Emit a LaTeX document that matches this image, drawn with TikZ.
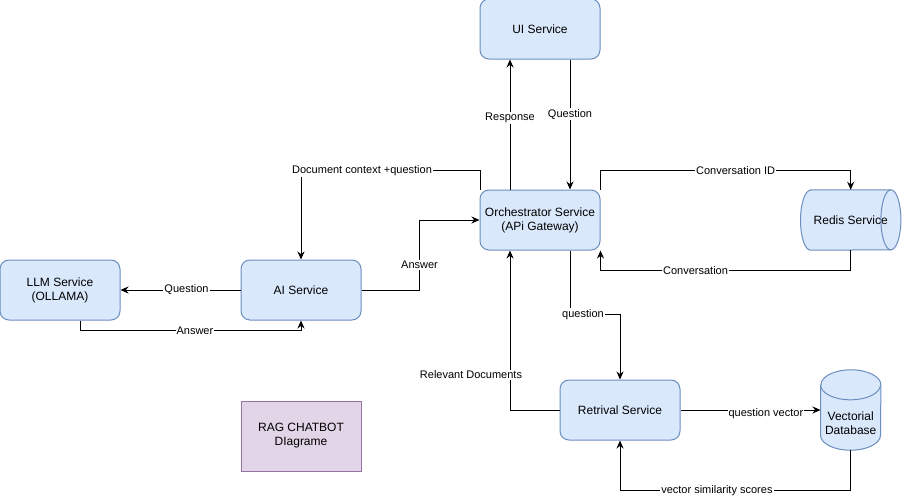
\documentclass[tikz,border=0pt]{standalone}
\usepackage{fontspec}
\setmainfont{Liberation Sans}
\usetikzlibrary{arrows.meta, positioning}
\definecolor{svcfill}{HTML}{DAE8FC}
\definecolor{svcline}{HTML}{6C8EBF}
\definecolor{notefill}{HTML}{E1D5E7}
\definecolor{noteline}{HTML}{9673A6}

\begin{document}
\begin{tikzpicture}[x=1pt, y=-1pt,
  service/.style={rectangle, rounded corners=9pt, draw=svcline, fill=svcfill, line width=1pt, minimum width=120pt, minimum height=60pt, inner sep=0pt, align=center, font=\fontsize{12}{14}\selectfont},
  store/.style={inner sep=0pt, align=center, font=\fontsize{12}{14}\selectfont},
  storeline/.style={draw=svcline, fill=svcfill, line width=1pt},
  arr/.style={-{Stealth[length=8pt,width=7pt]}, line width=1pt},
  lbl/.style={fill=white, inner sep=1pt, font=\fontsize{11}{13}\selectfont}]

 \useasboundingbox (0,0) rectangle (902,499);

 % Nodes
 \node[service] (llm) at (60,290) {LLM Service\\(OLLAMA)};
 \node[service, right=120pt of llm] (ai) {AI Service};
 \node[service] (orch) at (540,220) {Orchestrator Service\\(APi Gateway)};
 \node[service, above=130pt of orch] (ui) {UI Service};
 \node[store, minimum width=100pt, minimum height=60pt, right=200pt of orch] (redis) {};
 \node[service] (retr) at (620,410) {Retrival Service};
 \node[store, minimum width=60pt, minimum height=80pt, right=140pt of retr] (vdb) {};
 \node[service, rounded corners=0pt, draw=noteline, fill=notefill, minimum height=70pt, below=80pt of ai] (note) {RAG CHATBOT\\DIagrame};

 % Cylinders
 \draw[storeline] ([xshift=10pt]redis.north west) -- ([xshift=-10pt]redis.north east) arc (90:-90:10pt and 30pt) -- ([xshift=10pt]redis.south west) arc (270:90:10pt and 30pt) -- cycle;
 \draw[storeline, fill=none] ([xshift=-10pt]redis.north east) arc (90:270:10pt and 30pt);
 \node[store] (redistext) at (redis.center) {Redis Service};

 \draw[storeline] ([yshift=-15pt]vdb.north west) -- ([yshift=15pt]vdb.south west) arc (180:360:30pt and 15pt) -- ([yshift=-15pt]vdb.north east) arc (0:180:30pt and 15pt) -- cycle;
 \draw[storeline, fill=none] ([yshift=-15pt]vdb.north west) arc (180:360:30pt and 15pt);
 \node[store] (vdbtext) at ([yshift=-13pt]vdb.center) {Vectorial\\Database};

 % UI <-> orchestrator
 \draw[arr] ([xshift=-30pt]orch.north) -- ([xshift=-30pt]ui.south) node[lbl, pos=0.55] {Response};
 \draw[arr] ([xshift=30pt]ui.south) -- ([xshift=30pt]orch.north) node[lbl, pos=0.42] {Question};

 % orchestrator <-> AI service
 \draw[arr] ([xshift=1pt]orch.north west) |- node[lbl, pos=0.83] {Document context +question} ([yshift=89pt]ai.north) -- (ai.north);
 \draw[arr] (ai.east) -| node[lbl, pos=0.68] {Answer} ([xshift=-60pt]orch.west) -- (orch.west);

 % AI service <-> LLM
 \draw[arr] (ai.west) -- (llm.east) node[lbl, pos=0.45] {Question};
 \draw[arr] ([xshift=20pt]llm.south) |- node[lbl, pos=0.76] {Answer} ([yshift=-10pt]ai.south) -- (ai.south);

 % orchestrator <-> redis
 \draw[arr] (orch.north east) |- node[lbl, pos=0.77] {Conversation ID} ([yshift=19pt]redis.north) -- (redis.north);
 \draw[arr] (redis.south) -- ++(0,20) -| node[lbl, pos=0.31] {Conversation} (orch.south east);

 % orchestrator <-> retrival
 \draw[arr] ([xshift=30pt]orch.south) |- node[lbl, pos=0.63] {question} ([yshift=65pt]retr.north) -- (retr.north);
 \draw[arr] (retr.west) -| node[lbl, pos=0.61, xshift=-39pt] {Relevant Documents} ([xshift=-30pt]orch.south);

 % retrival <-> database
 \draw[arr] (retr.east) -- (vdb.west) node[lbl, pos=0.61, yshift=-4pt] {question vector};
 \draw[arr] (vdb.south) -- ++(0,40) -| node[lbl, pos=0.29] {vector similarity scores} (retr.south);

\end{tikzpicture}
\end{document}
